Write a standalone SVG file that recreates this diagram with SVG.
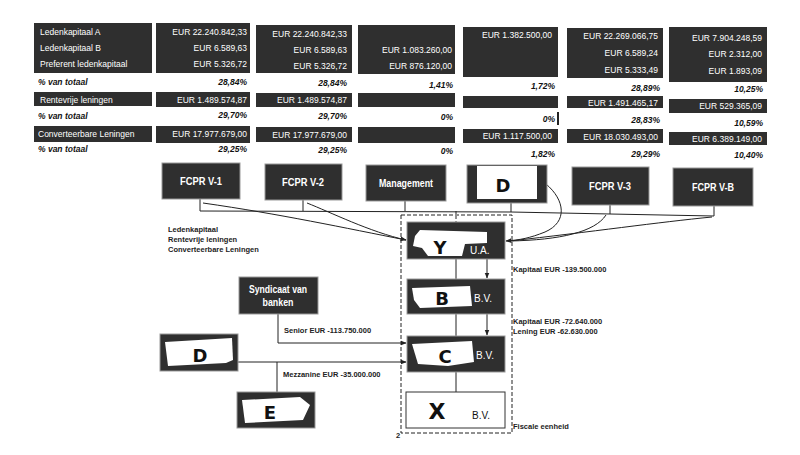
<svg xmlns="http://www.w3.org/2000/svg" width="800" height="455" viewBox="0 0 800 455">
<defs>
<marker id="ah" viewBox="0 0 10 10" refX="9" refY="5" markerWidth="6" markerHeight="6" orient="auto-start-reverse">
<path d="M0,1 L10,5 L0,9 z" fill="#222"/>
</marker>
<style>
.cell{fill:#2f2f2f}
.t{font-family:"Liberation Sans Narrow","Liberation Sans",Arial,sans-serif;font-size:8.5px;fill:#fff}
.r{text-anchor:end}
.pct{font-family:"Liberation Sans Narrow","Liberation Sans",Arial,sans-serif;font-size:8.5px;font-weight:bold;font-style:italic;fill:#111}
.node{fill:#2f2f2f;stroke:#999;stroke-width:1}
.nt{font-family:"Liberation Sans Narrow","Liberation Sans",Arial,sans-serif;font-size:11px;font-weight:bold;fill:#fff;text-anchor:middle}
.bv{font-family:"Liberation Sans Narrow","Liberation Sans",Arial,sans-serif;font-size:10px;fill:#fff}
.lab{font-family:"Liberation Sans Narrow","Liberation Sans",Arial,sans-serif;font-size:7.5px;font-weight:bold;fill:#222}
.ln{stroke:#222;stroke-width:1;fill:none}
.hand{font-family:"DejaVu Sans",sans-serif;font-size:18px;font-weight:bold;fill:#111;text-anchor:middle}
.patch{fill:#fff}
</style>
</defs>
<rect width="800" height="455" fill="#fff"/>

<g id="table">
<rect class="cell" x="34" y="23" width="118" height="50"/>
<rect class="cell" x="34" y="92" width="118" height="14"/>
<rect class="cell" x="34" y="126" width="118" height="16"/>
<text class="t" x="40" y="35">Ledenkapitaal A</text>
<text class="t" x="40" y="51">Ledenkapitaal B</text>
<text class="t" x="40" y="67">Preferent ledenkapitaal</text>
<text class="pct" x="38" y="85">% van totaal</text>
<text class="t" x="40" y="103">Rentevrije leningen</text>
<text class="pct" x="38" y="119">% van totaal</text>
<text class="t" x="38" y="137">Converteerbare Leningen</text>
<text class="pct" x="38" y="152">% van totaal</text>

<rect class="cell" x="156" y="23" width="94" height="50"/>
<rect class="cell" x="156" y="92" width="94" height="15"/>
<rect class="cell" x="156" y="126" width="94" height="17"/>
<text class="t r" x="247" y="35">EUR 22.240.842,33</text>
<text class="t r" x="247" y="51">EUR 6.589,63</text>
<text class="t r" x="247" y="67">EUR 5.326,72</text>
<text class="pct r" x="247" y="85">28,84%</text>
<text class="t r" x="247" y="103">EUR 1.489.574,87</text>
<text class="pct r" x="247" y="118">29,70%</text>
<text class="t r" x="247" y="137">EUR 17.977.679,00</text>
<text class="pct r" x="247" y="152">29,25%</text>

<rect class="cell" x="256" y="25" width="96" height="48"/>
<rect class="cell" x="256" y="93" width="96" height="14"/>
<rect class="cell" x="256" y="127" width="96" height="15"/>
<text class="t r" x="347" y="37">EUR 22.240.842,33</text>
<text class="t r" x="347" y="53">EUR 6.589,63</text>
<text class="t r" x="347" y="69">EUR 5.326,72</text>
<text class="pct r" x="347" y="86">28,84%</text>
<text class="t r" x="347" y="103">EUR 1.489.574,87</text>
<text class="pct r" x="347" y="119">29,70%</text>
<text class="t r" x="347" y="138">EUR 17.977.679,00</text>
<text class="pct r" x="347" y="153">29,25%</text>

<rect class="cell" x="358" y="25" width="97" height="49"/>
<rect class="cell" x="358" y="93" width="97" height="14"/>
<rect class="cell" x="358" y="127" width="97" height="16"/>
<text class="t r" x="452" y="53">EUR 1.083.260,00</text>
<text class="t r" x="452" y="69">EUR 876.120,00</text>
<text class="pct r" x="453" y="88">1,41%</text>
<text class="pct r" x="453" y="120">0%</text>
<text class="pct r" x="453" y="154">0%</text>

<rect class="cell" x="463" y="27" width="95" height="50"/>
<rect class="cell" x="463" y="96" width="95" height="12"/>
<rect class="cell" x="463" y="129" width="95" height="14"/>
<rect x="557" y="112" width="2" height="13" fill="#222"/>
<text class="t r" x="552" y="38">EUR 1.382.500,00</text>
<text class="pct r" x="555" y="89">1,72%</text>
<text class="pct r" x="555" y="122">0%</text>
<text class="t r" x="552" y="139">EUR 1.117.500,00</text>
<text class="pct r" x="555" y="157">1,82%</text>

<rect class="cell" x="567" y="28" width="96" height="50"/>
<rect class="cell" x="567" y="96" width="96" height="12"/>
<rect class="cell" x="567" y="129" width="96" height="14"/>
<text class="t r" x="658" y="39">EUR 22.269.066,75</text>
<text class="t r" x="658" y="56">EUR 6.589,24</text>
<text class="t r" x="658" y="73">EUR 5.333,49</text>
<text class="pct r" x="660" y="91">28,89%</text>
<text class="t r" x="658" y="106">EUR 1.491.465,17</text>
<text class="pct r" x="660" y="123">28,83%</text>
<text class="t r" x="658" y="140">EUR 18.030.493,00</text>
<text class="pct r" x="660" y="157">29,29%</text>

<rect class="cell" x="669" y="27" width="98" height="55"/>
<rect class="cell" x="669" y="99" width="98" height="14"/>
<rect class="cell" x="669" y="132" width="98" height="13"/>
<text class="t r" x="762" y="41">EUR 7.904.248,59</text>
<text class="t r" x="762" y="57">EUR 2.312,00</text>
<text class="t r" x="762" y="74">EUR 1.893,09</text>
<text class="pct r" x="763" y="92">10,25%</text>
<text class="t r" x="762" y="109">EUR 529.365,09</text>
<text class="pct r" x="763" y="126">10,59%</text>
<text class="t r" x="762" y="142">EUR 6.389.149,00</text>
<text class="pct r" x="763" y="158">10,40%</text>
</g>

<g id="connectors">
<line class="ln" x1="200" y1="199" x2="200" y2="211"/>
<line class="ln" x1="303" y1="200" x2="303" y2="211"/>
<line class="ln" x1="405" y1="201" x2="405" y2="211"/>
<line class="ln" x1="511" y1="203" x2="511" y2="212"/>
<line class="ln" x1="610" y1="205" x2="610" y2="214"/>
<line class="ln" x1="714" y1="206" x2="714" y2="216"/>
<polyline class="ln" points="200,211 511,212 610,214 714,216"/>
<line class="ln" x1="456" y1="211" x2="456" y2="222" stroke-dasharray="3,2"/>
<path class="ln" d="M203,203 C280,214 345,228 406,240" marker-end="url(#ah)"/>
<path class="ln" d="M307,203 C330,212 370,232 406,240"/>
<path class="ln" d="M546,184 C565,200 568,222 545,232 C530,238 520,240 506,241" marker-end="url(#ah)"/>
<path class="ln" d="M606,215 C595,232 560,240 510,241"/>
<path class="ln" d="M712,217 C660,222 590,232 510,241"/>
<line class="ln" x1="456" y1="259" x2="456" y2="279"/>
<line class="ln" x1="487" y1="259" x2="487" y2="278" marker-end="url(#ah)"/>
<line class="ln" x1="456" y1="314" x2="456" y2="336"/>
<line class="ln" x1="487" y1="314" x2="487" y2="335" marker-end="url(#ah)"/>
<line class="ln" x1="456" y1="372" x2="456" y2="392"/>
<polyline class="ln" points="278,314 278,343 406,343" marker-end="url(#ah)"/>
<line class="ln" x1="238" y1="362" x2="406" y2="362" marker-end="url(#ah)"/>
<line class="ln" x1="277" y1="362" x2="277" y2="392"/>
<rect x="401" y="215" width="111" height="218" fill="none" stroke="#222" stroke-width="1" stroke-dasharray="4,2"/>
</g>

<g id="labels">
<text class="lab" x="168" y="232">Ledenkapitaal</text>
<text class="lab" x="168" y="242">Rentevrije leningen</text>
<text class="lab" x="168" y="252">Converteerbare Leningen</text>
<text class="lab" x="513" y="272">Kapitaal EUR -139.500.000</text>
<text class="lab" x="513" y="324">Kapitaal EUR -72.640.000</text>
<text class="lab" x="513" y="334">Lening  EUR -62.630.000</text>
<text class="lab" x="284" y="333">Senior EUR -113.750.000</text>
<text class="lab" x="283" y="377">Mezzanine EUR -35.000.000</text>
<text class="lab" x="513" y="429">Fiscale eenheid</text>
<text class="lab" x="396" y="438">2</text>
</g>

<g id="fcpr-v1"><rect class="node" x="162" y="163" width="78" height="36"/><text class="nt" x="201" y="185" textLength="42" lengthAdjust="spacingAndGlyphs">FCPR V-1</text></g>
<g id="fcpr-v2"><rect class="node" x="265" y="164" width="77" height="36"/><text class="nt" x="303" y="186" textLength="42" lengthAdjust="spacingAndGlyphs">FCPR V-2</text></g>
<g id="management"><rect class="node" x="366" y="165" width="80" height="36"/><text class="nt" x="406" y="187" textLength="54" lengthAdjust="spacingAndGlyphs">Management</text></g>
<g id="d-top"><rect class="node" x="467" y="165" width="80" height="38"/><rect class="patch" x="477" y="166" width="60" height="33"/><text class="hand" x="503" y="192">D</text></g>
<g id="fcpr-v3"><rect class="node" x="572" y="167" width="77" height="38"/><text class="nt" x="610" y="190" textLength="42" lengthAdjust="spacingAndGlyphs">FCPR V-3</text></g>
<g id="fcpr-vb"><rect class="node" x="673" y="168" width="80" height="38"/><text class="nt" x="713" y="191" textLength="42" lengthAdjust="spacingAndGlyphs">FCPR V-B</text></g>

<g id="y"><rect class="node" x="407" y="222" width="98" height="37"/>
<polygon class="patch" points="415,236 420,230 487,232 487,243 465,244 462,256 428,256 422,248 413,246"/>
<text class="hand" x="440" y="254">Y</text><text class="bv" x="470" y="254">U.A.</text></g>
<g id="b"><rect class="node" x="407" y="279" width="98" height="35"/>
<polygon class="patch" points="412,288 470,286 472,306 420,308 414,300"/>
<text class="hand" x="442" y="305">B</text><text class="bv" x="474" y="302">B.V.</text></g>
<g id="c"><rect class="node" x="407" y="336" width="98" height="36"/>
<polygon class="patch" points="412,344 472,341 474,362 448,366 418,364"/>
<text class="hand" x="445" y="363">C</text><text class="bv" x="476" y="359">B.V.</text></g>
<g id="x"><rect x="406" y="392" width="99" height="36" fill="#fff" stroke="#333" stroke-width="1"/>
<text class="hand" x="437" y="419" style="font-size:22px">X</text><text class="bv" x="472" y="419" style="fill:#111">B.V.</text></g>

<g id="syndicaat"><rect class="node" x="239" y="277" width="79" height="37"/>
<text class="nt" x="278" y="293" style="font-size:10.5px" textLength="58" lengthAdjust="spacingAndGlyphs">Syndicaat van</text><text class="nt" x="278" y="306" style="font-size:10.5px" textLength="31" lengthAdjust="spacingAndGlyphs">banken</text></g>
<g id="d-left"><rect class="node" x="160" y="334" width="78" height="37"/>
<polygon class="patch" points="165,342 232,338 233,360 226,363 168,366"/>
<text class="hand" x="200" y="362">D</text></g>
<g id="e"><rect class="node" x="237" y="392" width="78" height="36"/>
<polygon class="patch" points="242,400 300,397 310,405 303,420 245,423"/>
<text class="hand" x="270" y="419">E</text></g>
</svg>
